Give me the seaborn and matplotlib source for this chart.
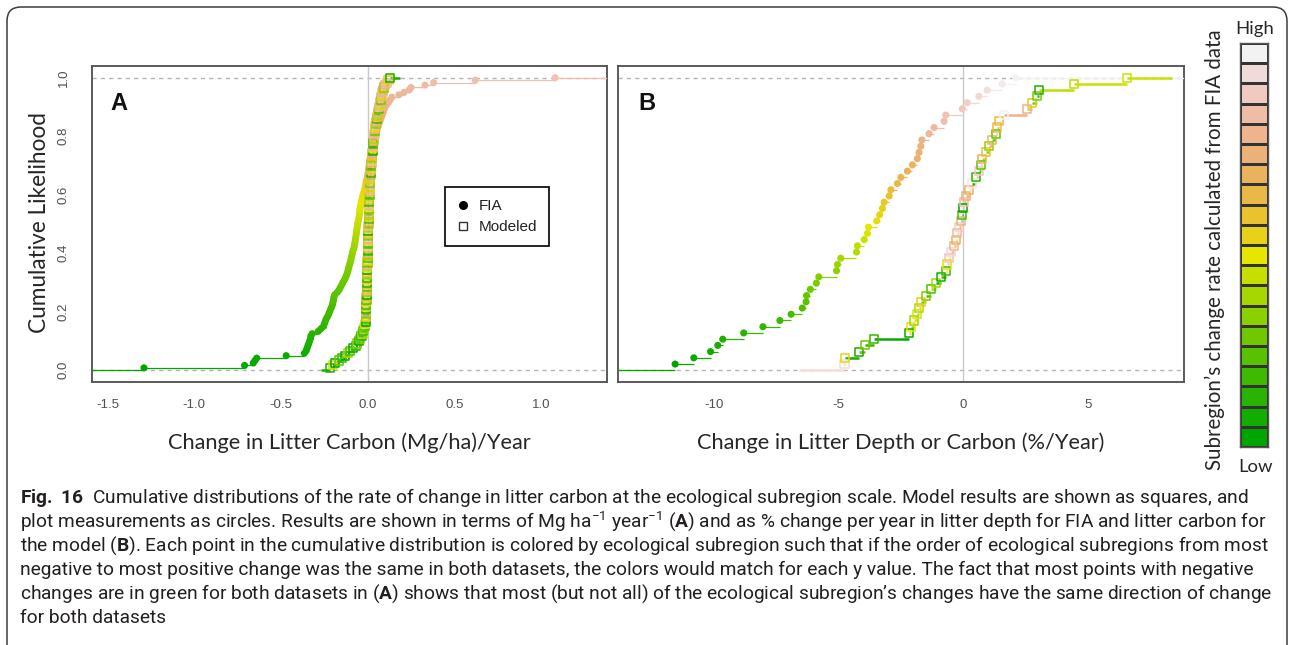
import numpy as np
import pandas as pd
import seaborn as sns
import matplotlib
matplotlib.use("Agg")
import matplotlib.pyplot as plt
from matplotlib.colors import hsv_to_rgb, ListedColormap
from matplotlib.lines import Line2D
from matplotlib.patches import FancyBboxPatch
from matplotlib import font_manager

# ---------------------------------------------------------------------------
# Rate of change in litter carbon per ecological subregion.
# Subregions are listed in order of their FIA rate; the modelled value of the
# same subregion sits at the same position of the modelled list.
# ---------------------------------------------------------------------------
# Panel A: Mg/ha per year
fia_a = [
    -1.29, -0.71, -0.66, -0.65, -0.64, -0.47, -0.365, -0.355, -0.35, -0.345,
    -0.34, -0.335, -0.33, -0.328, -0.32, -0.285, -0.27, -0.255, -0.25, -0.245,
    -0.24, -0.232, -0.225, -0.22, -0.214, -0.208, -0.203, -0.2, -0.197, -0.195,
    -0.19, -0.175, -0.165, -0.158, -0.15, -0.143, -0.135, -0.128, -0.122, -0.117,
    -0.113, -0.11, -0.106, -0.102, -0.098, -0.095, -0.092, -0.088, -0.085, -0.08,
    -0.077, -0.075, -0.072, -0.07, -0.068, -0.066, -0.064, -0.062, -0.06, -0.058,
    -0.055, -0.052, -0.05, -0.048, -0.046, -0.044, -0.042, -0.04, -0.037, -0.034,
    -0.03, -0.027, -0.022, -0.018, -0.014, -0.012, -0.009, -0.006, -0.003, 0.0,
    0.002, 0.004, 0.006, 0.008, 0.01, 0.013, 0.016, 0.019, 0.022, 0.025,
    0.028, 0.031, 0.034, 0.037, 0.04, 0.044, 0.048, 0.052, 0.056, 0.06,
    0.064, 0.07, 0.075, 0.08, 0.085, 0.09, 0.095, 0.1, 0.11, 0.12,
    0.13, 0.14, 0.18, 0.21, 0.24, 0.25, 0.33, 0.38, 0.62, 1.08,
]
model_a = [
    -0.19, -0.012, -0.13, 0.004, -0.085, -0.006, 0.028, -0.05, -0.002, 0.13,
    -0.215, -0.009, 0.001, -0.036, 0.017, -0.004, -0.07, 0.009, 0.052, -0.011,
    -0.003, -0.15, 0.006, -0.025, 0.033, -0.008, 0.0, -0.1, 0.064, 0.011,
    -0.017, 0.002, -0.007, 0.021, -0.165, -0.001, 0.041, 0.008, -0.042, 0.075,
    -0.005, 0.013, -0.06, 0.003, 0.095, -0.01, -0.02, 0.005, 0.047, -0.003,
    0.024, -0.115, 0.007, -0.006, 0.036, 0.0, -0.03, 0.058, 0.01, -0.009,
    0.001, 0.015, -0.2, 0.004, 0.069, -0.002, 0.012, -0.014, 0.03, 0.008,
    -0.004, 0.044, 0.002, -0.008, 0.019, 0.082, -0.001, 0.006, 0.12, -0.011,
    0.026, -0.005, 0.011, 0.055, 0.003, -0.007, 0.038, 0.009, 0.013, 0.078,
    -0.003, 0.022, 0.005, 0.09, 0.0, 0.061, -0.01, 0.034, 0.007, 0.016,
    0.049, -0.006, 0.027, 0.002, 0.1, 0.012, -0.002, 0.072, 0.042, 0.011,
    0.018, 0.004, 0.066, 0.11, 0.031, 0.085, 0.008, 0.039, 0.023, 0.001,
]

# Panel B: % per year (litter depth for FIA, litter carbon for the model)
fia_b = [
    -11.55, -10.8, -10.13, -9.84, -9.64, -8.8, -8.03, -7.35, -6.9, -6.45,
    -6.3, -6.28, -6.13, -5.89, -5.79, -5.08, -5.04, -4.91, -4.28, -4.24,
    -3.97, -3.84, -3.8, -3.47, -3.35, -3.24, -3.17, -2.97, -2.9, -2.64,
    -2.5, -2.24, -2.04, -1.84, -1.77, -1.7, -1.66, -1.37, -1.17, -0.77,
    -0.7, -0.04, 0.16, 0.63, 0.96, 1.56, 2.1,
]
model_b = [
    0.0, -2.17, -0.9, -4.17, 3.03, 0.5, -3.57, -0.7, -0.04, -1.3,
    0.7, 1.3, -3.95, 2.96, -1.5, 1.03, -1.97, -1.1, -1.77, 4.43,
    6.56, -1.84, -2.1, -0.64, -4.73, -1.7, 2.76, 0.9, 1.43, 1.36,
    -0.3, 0.23, 0.76, 1.16, 0.1, -0.1, 2.56, -0.37, -0.24, 0.03,
    -0.57, 0.63, -0.17, -0.5, -4.76, 0.36, 1.63,
]

xticks_a = [-1.5, -1.0, -0.5, 0.0, 0.5, 1.0]
xticklabels_a = ["-1.5", "-1.0", "-0.5", "0.0", "0.5", "1.0"]
xticks_b = [-10, -5, 0, 5]
xticklabels_b = ["-10", "-5", "0", "5"]
yticks = [0.0, 0.2, 0.4, 0.6, 0.8, 1.0]
yticklabels = ["0.0", "0.2", "0.4", "0.6", "0.8", "1.0"]

n_key_levels = 20      # blocks in the colour key
n_palette_a = 138      # colours spread over the panel A ranking
n_palette_b = 47       # colours spread over the panel B ranking

xlabel_a = "Change in Litter Carbon (Mg/ha)/Year"
xlabel_b = "Change in Litter Depth or Carbon (%/Year)"
ylabel = "Cumulative Likelihood"
key_label = "Subregion\u2019s change rate calculated from FIA data"
legend_labels = ["FIA", "Modeled"]

caption_lines = [
    r"$\mathbf{Fig.\ 16}$  Cumulative distributions of the rate of change in litter carbon at the ecological subregion scale. Model results are shown as squares, and",
    r"plot measurements as circles. Results are shown in terms of Mg ha$^{-1}$ year$^{-1}$ ($\mathbf{A}$) and as % change per year in litter depth for FIA and litter carbon for",
    r"the model ($\mathbf{B}$). Each point in the cumulative distribution is colored by ecological subregion such that if the order of ecological subregions from most",
    r"negative to most positive change was the same in both datasets, the colors would match for each y value. The fact that most points with negative",
    r"changes are in green for both datasets in ($\mathbf{A}$) shows that most (but not all) of the ecological subregion" "\u2019" r"s changes have the same direction of change",
    r"for both datasets",
]

# ---------------------------------------------------------------------------
sns.set_style("white")
installed = {f.name for f in font_manager.fontManager.ttflist}


def pick(*cands):
    for c in cands:
        if c in installed:
            return c
    return "DejaVu Sans"


f_tick = pick("Liberation Sans", "Arimo")
f_label = pick("Lato", "Open Sans", "Noto Sans")
f_caption = pick("Liberation Sans Narrow", "Roboto", "Liberation Sans")

plt.rcParams.update({
    "font.family": [f_tick, "DejaVu Sans"],
    "axes.unicode_minus": False,
    "mathtext.fontset": "custom",
    "mathtext.rm": f_caption,
    "mathtext.bf": f_caption + ":bold",
    "mathtext.it": f_caption + ":italic",
    "mathtext.sf": f_caption,
})


def terrain_colors(n):
    """R's terrain.colors palette: green -> yellow -> tan -> pale grey."""
    k = n // 2
    h = [4 / 12, 2 / 12, 0.0]
    s = [1.0, 1.0, 0.0]
    v = [0.65, 0.9, 0.95]
    lo = np.column_stack([np.linspace(h[0], h[1], k),
                          np.linspace(s[0], s[1], k),
                          np.linspace(v[0], v[1], k)])
    hi = np.column_stack([np.linspace(h[1], h[2], n - k + 1)[1:],
                          np.linspace(s[1], s[2], n - k + 1)[1:],
                          np.linspace(v[1], v[2], n - k + 1)[1:]])
    return [tuple(c) for c in hsv_to_rgb(np.vstack([lo, hi]))]


def step_range(values):
    v = np.unique(values)
    dr = max(0.08 * (v[-1] - v[0]), np.median(np.diff(v)))
    return v[0] - dr, v[-1] + dr, dr


W, H = 1290, 645
fig = plt.figure(figsize=(W / 100, H / 100), dpi=100)
fig.patch.set_facecolor("white")


def px_axes(left, top, right, bottom):
    return fig.add_axes([left / W, 1 - bottom / H, (right - left) / W, (bottom - top) / H])


def draw_ecdf(ax, values, ranks, pal, ext, filled, seg_lw, z):
    values = np.asarray(values, float)
    order = np.argsort(values, kind="stable")
    x = values[order]
    r = np.asarray(ranks)[order]
    n = len(x)
    y = np.arange(1, n + 1) / n
    ti = np.concatenate([[ext[0]], x, [ext[1]]])
    yy = np.concatenate([[0.0], y])
    # flat run after each point takes the colour of the following point;
    # the two open ends take the colours of the first and last points
    seg_cols = [pal[r[0]]] + [pal[r[min(j + 1, n - 1)]] for j in range(n)]
    ax.hlines(yy, ti[:-1], ti[1:], colors=seg_cols, lw=seg_lw, zorder=z)
    df = pd.DataFrame({"change": x, "cum": y, "subregion": r})
    sns.scatterplot(data=df, x="change", y="cum", hue="subregion",
                    palette={k: pal[k] for k in r}, marker="o" if filled else "s",
                    s=26 if filled else 34, linewidth=0, legend=False, ax=ax,
                    zorder=z + 1)
    coll = ax.collections[-1]
    if not filled:
        fc = coll.get_facecolors()
        coll.set_facecolors("none")
        coll.set_edgecolors(fc)
        coll.set_linewidths(1.1)


def panel(ax, fia, model, n_pal, xlim, xticks, xticklabels, letter, ylabels_on):
    fia = np.asarray(fia, float)
    model = np.asarray(model, float)
    rank = np.argsort(np.argsort(fia, kind="stable"), kind="stable")
    pal = terrain_colors(n_pal)

    ax.axhline(0, color="#b3b3b3", lw=1.0, ls=(0, (3, 3)), zorder=1)
    ax.axhline(1, color="#b3b3b3", lw=1.0, ls=(0, (3, 3)), zorder=1)
    ax.axvline(0, color="#c9c9c9", lw=1.0, zorder=1)

    span = xlim[1] - xlim[0]
    draw_ecdf(ax, fia, rank, pal, (xlim[0] - span, xlim[1] + span), True, 0.9, 3)
    lo, hi, dr = step_range(model)
    draw_ecdf(ax, model, rank, pal, (lo - dr, hi + dr), False, 1.8, 5)

    ax.set_xlim(*xlim)
    ax.set_ylim(-0.04, 1.04)
    ax.set_xlabel("")
    ax.set_ylabel("")
    ax.set_xticks(xticks)
    ax.set_xticklabels(xticklabels)
    ax.set_yticks(yticks)
    if ylabels_on:
        ax.set_yticklabels(yticklabels, rotation=90, va="center")
    else:
        ax.set_yticklabels([])
    ax.tick_params(axis="both", direction="out", length=6, width=1.0,
                   color="#555555", labelcolor="#505050", labelsize=9.5)
    ax.tick_params(axis="x", pad=6)
    ax.tick_params(axis="y", pad=10)
    for sp in ax.spines.values():
        sp.set_visible(True)
        sp.set_color("#5a5a5a")
        sp.set_linewidth(1.4)
    ax.text(0.052, 0.88, letter, transform=ax.transAxes, ha="center", va="center",
            fontsize=17, fontweight="bold", color="#111111", family=f_tick)


def axis_limits(lo, hi):
    pad = 0.04 * (hi - lo)
    return lo - pad, hi + pad


lo_a, hi_a, _ = step_range(fia_a)
lo_b, hi_b, _ = step_range(np.concatenate([fia_b, model_b]))

axA = px_axes(92, 66, 607, 382)
axB = px_axes(618, 66, 1184, 382)
panel(axA, fia_a, model_a, n_palette_a, axis_limits(lo_a, hi_a), xticks_a, xticklabels_a, "A", True)
panel(axB, fia_b, model_b, n_palette_b, axis_limits(lo_b, hi_b), xticks_b, xticklabels_b, "B", False)

handles = [
    Line2D([], [], marker="o", ls="none", color="black", markersize=5.5),
    Line2D([], [], marker="s", ls="none", markerfacecolor="none",
           markeredgecolor="#333333", markeredgewidth=1.0, markersize=5.5),
]
leg = axA.legend(handles, legend_labels, loc="upper left", bbox_to_anchor=(0.685, 0.617),
                 frameon=True, fancybox=False, edgecolor="black", framealpha=1,
                 fontsize=11, handlelength=0.8, handletextpad=0.6, borderpad=0.8,
                 labelspacing=0.45, borderaxespad=0)
leg.get_frame().set_linewidth(1.2)
for t in leg.get_texts():
    t.set_color("#222222")

# colour key
axC = px_axes(1240, 43, 1268, 447)
key = np.arange(n_key_levels)[::-1].reshape(-1, 1)
sns.heatmap(key, ax=axC, cmap=ListedColormap(terrain_colors(n_key_levels)),
            vmin=-0.5, vmax=n_key_levels - 0.5, cbar=False, linewidths=1.0,
            linecolor="#333333", xticklabels=False, yticklabels=False)
for sp in axC.spines.values():
    sp.set_visible(True)
    sp.set_color("#555555")
    sp.set_linewidth(1.0)


def ftext(x, y, s, **kw):
    return fig.text(x / W, 1 - y / H, s, **kw)


renderer = fig.canvas.get_renderer()


def extent(txt):
    bb = txt.get_window_extent(renderer)
    return max(bb.width, bb.height)


def fit(txt, target):
    size = txt.get_fontsize() * target / extent(txt)
    txt.set_fontsize(size)
    return size


lab_b = ftext(901, 443, xlabel_b, ha="center", va="center", family=f_label,
              fontsize=14, color="#262626")
lab_size = fit(lab_b, 408)
ftext(349.5, 443, xlabel_a, ha="center", va="center", family=f_label,
      fontsize=lab_size, color="#262626")
ftext(40, 222, ylabel, ha="center", va="center", rotation=90, family=f_label,
      fontsize=lab_size * 1.04, color="#262626")
kl = ftext(1215, 250, key_label, ha="center", va="center", rotation=90,
           family=f_label, fontsize=13, color="#262626")
fit(kl, 440)
ftext(1255, 29, "High", ha="center", va="center", family=f_label,
      fontsize=lab_size * 0.85, color="#262626")
ftext(1255, 467, "Low", ha="center", va="center", family=f_label,
      fontsize=lab_size * 0.85, color="#262626")

# caption: one size for all lines, chosen so the longest line fits the frame
cap = []
for i, line in enumerate(caption_lines):
    cap.append(ftext(20, 503 + 24 * i, line, ha="left", va="baseline",
                     family=[f_caption, "DejaVu Sans"], fontsize=12, color="#231f20"))
widest = max(cap, key=extent)
cap_size = fit(widest, 1252)
for t in cap:
    t.set_fontsize(cap_size)

# outer rounded frame, open at the bottom edge of the figure
frame = FancyBboxPatch((0.07, -0.3), 12.8, 6.38 + 0.3,
                       boxstyle="round,pad=0,rounding_size=0.14",
                       transform=fig.dpi_scale_trans, fill=False,
                       edgecolor="#3c3c3c", lw=1.1, clip_on=False)
fig.patches.append(frame)

fig.savefig("out.png", dpi=100, facecolor="white")
